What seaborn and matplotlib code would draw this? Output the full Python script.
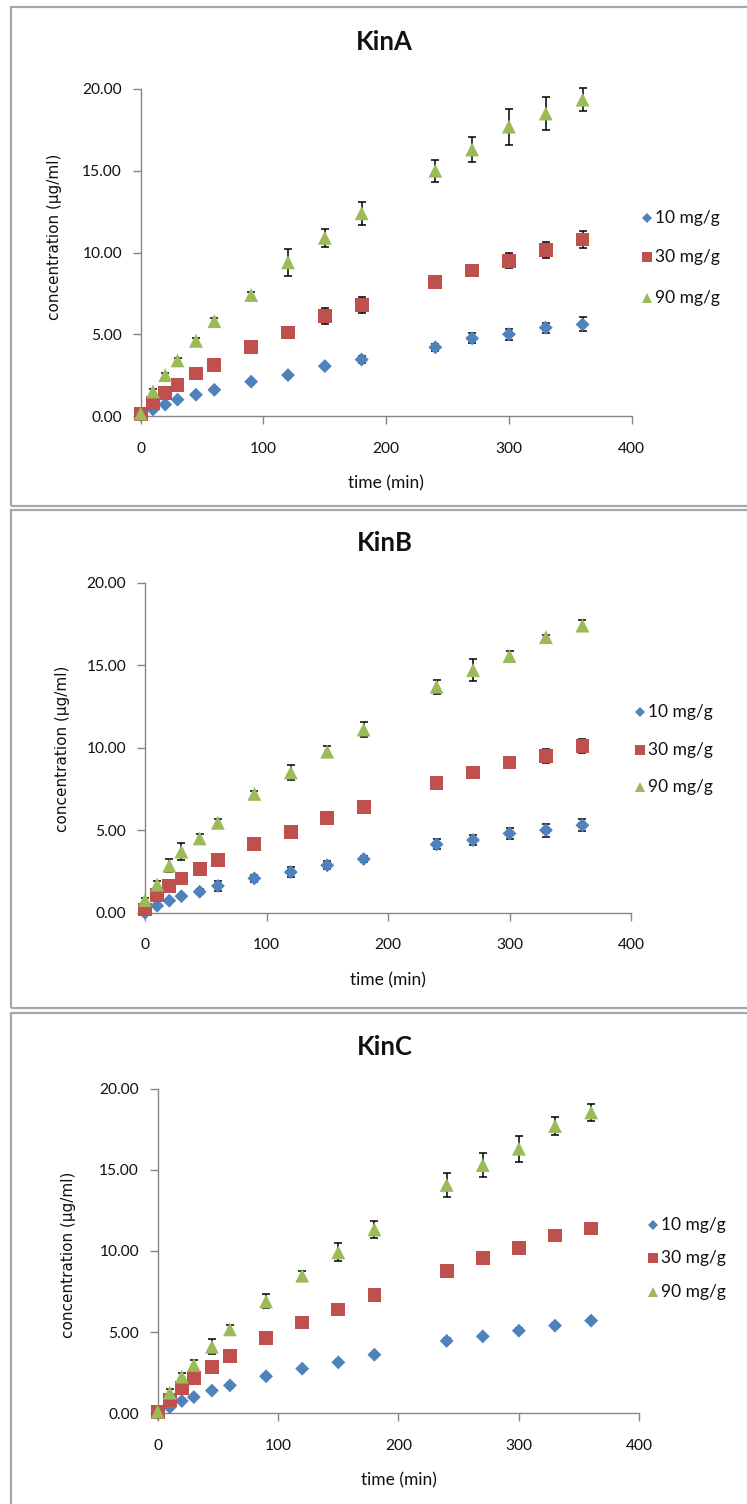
import matplotlib
matplotlib.use("Agg")
import matplotlib.pyplot as plt
import pandas as pd
import seaborn as sns
from matplotlib.lines import Line2D
from matplotlib.patches import Rectangle

# ---------------------------------------------------------------- data
time_min = [0, 10, 20, 30, 45, 60, 90, 120, 150, 180, 240, 270, 300, 330, 360]
doses = ["10 mg/g", "30 mg/g", "90 mg/g"]
panels = ["KinA", "KinB", "KinC"]
x_ticks = [0, 100, 200, 300, 400]
y_ticks = [0, 5, 10, 15, 20]

kinA_10 = [0.05, 0.4, 0.7, 1.0, 1.3, 1.6, 2.1, 2.5, 3.05, 3.45, 4.2, 4.75, 5.0, 5.4, 5.6]
kinA_30 = [0.1, 0.8, 1.4, 1.9, 2.6, 3.1, 4.2, 5.1, 6.1, 6.8, 8.2, 8.9, 9.5, 10.15, 10.8]
kinA_90 = [0.15, 1.5, 2.5, 3.4, 4.6, 5.8, 7.4, 9.4, 10.9, 12.4, 15.0, 16.3, 17.7, 18.5, 19.35]
kinA_10_sd = [0.05, 0.1, 0.1, 0.1, 0.1, 0.1, 0.1, 0.1, 0.1, 0.2, 0.2, 0.3, 0.35, 0.3, 0.43]
kinA_30_sd = [0.05, 0.1, 0.1, 0.1, 0.1, 0.1, 0.1, 0.1, 0.5, 0.5, 0.2, 0.3, 0.45, 0.5, 0.5]
kinA_90_sd = [0.05, 0.15, 0.15, 0.15, 0.15, 0.2, 0.2, 0.83, 0.55, 0.7, 0.67, 0.77, 1.1, 1.0, 0.72]

kinB_10 = [0.0, 0.42, 0.73, 1.0, 1.27, 1.62, 2.08, 2.46, 2.87, 3.25, 4.14, 4.4, 4.8, 5.0, 5.3]
kinB_30 = [0.2, 1.07, 1.64, 2.08, 2.63, 3.2, 4.16, 4.9, 5.74, 6.42, 7.84, 8.5, 9.1, 9.5, 10.1]
kinB_90 = [0.77, 1.7, 2.85, 3.7, 4.5, 5.45, 7.2, 8.5, 9.76, 11.1, 13.7, 14.7, 15.55, 16.7, 17.4]
kinB_10_sd = [0.05, 0.1, 0.1, 0.1, 0.15, 0.3, 0.2, 0.3, 0.25, 0.2, 0.3, 0.3, 0.35, 0.4, 0.35]
kinB_30_sd = [0.1, 0.1, 0.1, 0.1, 0.1, 0.1, 0.1, 0.1, 0.1, 0.1, 0.1, 0.1, 0.1, 0.4, 0.4]
kinB_90_sd = [0.1, 0.2, 0.4, 0.5, 0.3, 0.2, 0.2, 0.43, 0.33, 0.45, 0.43, 0.65, 0.3, 0.15, 0.35]

kinC_10 = [0.0, 0.37, 0.76, 1.0, 1.4, 1.72, 2.28, 2.75, 3.14, 3.61, 4.46, 4.74, 5.09, 5.4, 5.71]
kinC_30 = [0.06, 0.82, 1.54, 2.18, 2.83, 3.53, 4.64, 5.6, 6.4, 7.27, 8.79, 9.55, 10.2, 10.96, 11.38]
kinC_90 = [0.1, 1.27, 2.26, 2.98, 4.1, 5.17, 6.9, 8.48, 9.92, 11.33, 14.07, 15.3, 16.3, 17.7, 18.54]
kinC_10_sd = [0.05, 0.05, 0.1, 0.1, 0.1, 0.1, 0.1, 0.1, 0.1, 0.1, 0.15, 0.1, 0.15, 0.15, 0.1]
kinC_30_sd = [0.05, 0.1, 0.1, 0.2, 0.1, 0.1, 0.1, 0.1, 0.1, 0.1, 0.1, 0.1, 0.1, 0.1, 0.1]
kinC_90_sd = [0.05, 0.2, 0.2, 0.3, 0.45, 0.3, 0.43, 0.3, 0.56, 0.5, 0.72, 0.76, 0.8, 0.55, 0.51]

series = {
    "KinA": [(kinA_10, kinA_10_sd), (kinA_30, kinA_30_sd), (kinA_90, kinA_90_sd)],
    "KinB": [(kinB_10, kinB_10_sd), (kinB_30, kinB_30_sd), (kinB_90, kinB_90_sd)],
    "KinC": [(kinC_10, kinC_10_sd), (kinC_30, kinC_30_sd), (kinC_90, kinC_90_sd)],
}

rows = []
for panel in panels:
    for dose, (means, sds) in zip(doses, series[panel]):
        for t, m, sd in zip(time_min, means, sds):
            rows.append({"panel": panel, "dose": dose, "time": t, "conc": m, "sd": sd})
df = pd.DataFrame(rows)

# ---------------------------------------------------------------- style
sns.set_style("ticks")
plt.rcParams["font.family"] = ["Lato", "DejaVu Sans"]

colors = {"10 mg/g": "#4F81BD", "30 mg/g": "#C0504D", "90 mg/g": "#9BBB59"}
markers = {"10 mg/g": "D", "30 mg/g": "s", "90 mg/g": "^"}
msizes = {"10 mg/g": 50, "30 mg/g": 98, "90 mg/g": 100}
leg_ms = {"10 mg/g": 5.0, "30 mg/g": 7.0, "90 mg/g": 7.5}
axis_grey = "#868686"

W, H = 747, 1504
fig = plt.figure(figsize=(W / 100, H / 100), dpi=100)


def fx(px):
    return px / W


def fy(py):
    return 1 - py / H


# panel frames (left, top, bottom)
frames = [(10.5, 7, 506), (10.5, 510, 1008), (10.5, 1013, 1530)]
for left, top, bottom in frames:
    fig.patches.append(Rectangle((fx(left), fy(bottom)), fx(W + 20 - left), fy(top) - fy(bottom),
                                 transform=fig.transFigure, fill=False,
                                 edgecolor="#a6a6a6", linewidth=1.6, zorder=0))

# per panel layout in pixels
layout = {
    "KinA": dict(ax=(140.7, 631.7, 89, 416), title=(384, 42), xlab=483, ylab=(55, 237),
                 leg=(647, [218, 257, 298])),
    "KinB": dict(ax=(145, 631, 582.7, 912.7), title=(385, 543), xlab=980, ylab=(62, 749),
                 leg=(640, [712, 750, 787])),
    "KinC": dict(ax=(157.7, 639.3, 1088.7, 1413.3), title=(385, 1047), xlab=1480, ylab=(69, 1255),
                 leg=(653, [1225, 1258, 1292])),
}

for panel in panels:
    lay = layout[panel]
    l, r, t, b = lay["ax"]
    ax = fig.add_axes([fx(l), fy(b), fx(r) - fx(l), fy(t) - fy(b)])
    sub = df[df["panel"] == panel]
    for dose in doses:
        d = sub[sub["dose"] == dose]
        # error bars sit behind the markers
        ax.errorbar(d["time"], d["conc"], yerr=d["sd"], fmt="none", ecolor="black",
                    elinewidth=1.1, capsize=2.8, capthick=1.1, zorder=2, clip_on=False)
        sns.scatterplot(data=d, x="time", y="conc", marker=markers[dose], color=colors[dose],
                        s=msizes[dose], edgecolor="none", linewidth=0, ax=ax,
                        clip_on=False, zorder=3, legend=False)

    ax.set_xlim(0, 400)
    ax.set_ylim(0, 20)
    ax.set_xticks(x_ticks)
    ax.set_yticks(y_ticks)
    ax.set_yticklabels([f"{v:.2f}" for v in y_ticks])
    ax.set_xlabel("")
    ax.set_ylabel("")
    for side in ("top", "right"):
        ax.spines[side].set_visible(False)
    for side in ("left", "bottom"):
        ax.spines[side].set_color(axis_grey)
        ax.spines[side].set_linewidth(1.0)
    ax.tick_params(axis="both", direction="out", length=5.5, width=1.0, color=axis_grey,
                   labelsize=11.2, labelcolor="#111111")
    ax.tick_params(axis="x", pad=13)
    ax.tick_params(axis="y", pad=8)
    ax.patch.set_alpha(0)

    # titles and axis labels
    tx, ty = lay["title"]
    fig.text(fx(tx), fy(ty), panel, ha="center", va="center", fontsize=18.5, fontweight="bold",
             color="#111111")
    fig.text(fx((l + r) / 2), fy(lay["xlab"]), "time (min)", ha="center", va="center",
             fontsize=12.5, color="#111111")
    yx, yy = lay["ylab"]
    fig.text(fx(yx), fy(yy), "concentration (µg/ml)", ha="center", va="center", rotation=90,
             fontsize=11, family=["DejaVu Sans"], color="#111111")

    # legend entries
    lx, lys = lay["leg"]
    for dose, ly in zip(doses, lys):
        fig.lines.append(Line2D([fx(lx)], [fy(ly)], transform=fig.transFigure, linestyle="none",
                                marker=markers[dose], markersize=leg_ms[dose],
                                markerfacecolor=colors[dose], markeredgewidth=0))
        fig.text(fx(lx + 8), fy(ly), dose, ha="left", va="center", fontsize=12.5, color="#111111")

fig.savefig("out.png", dpi=100)
